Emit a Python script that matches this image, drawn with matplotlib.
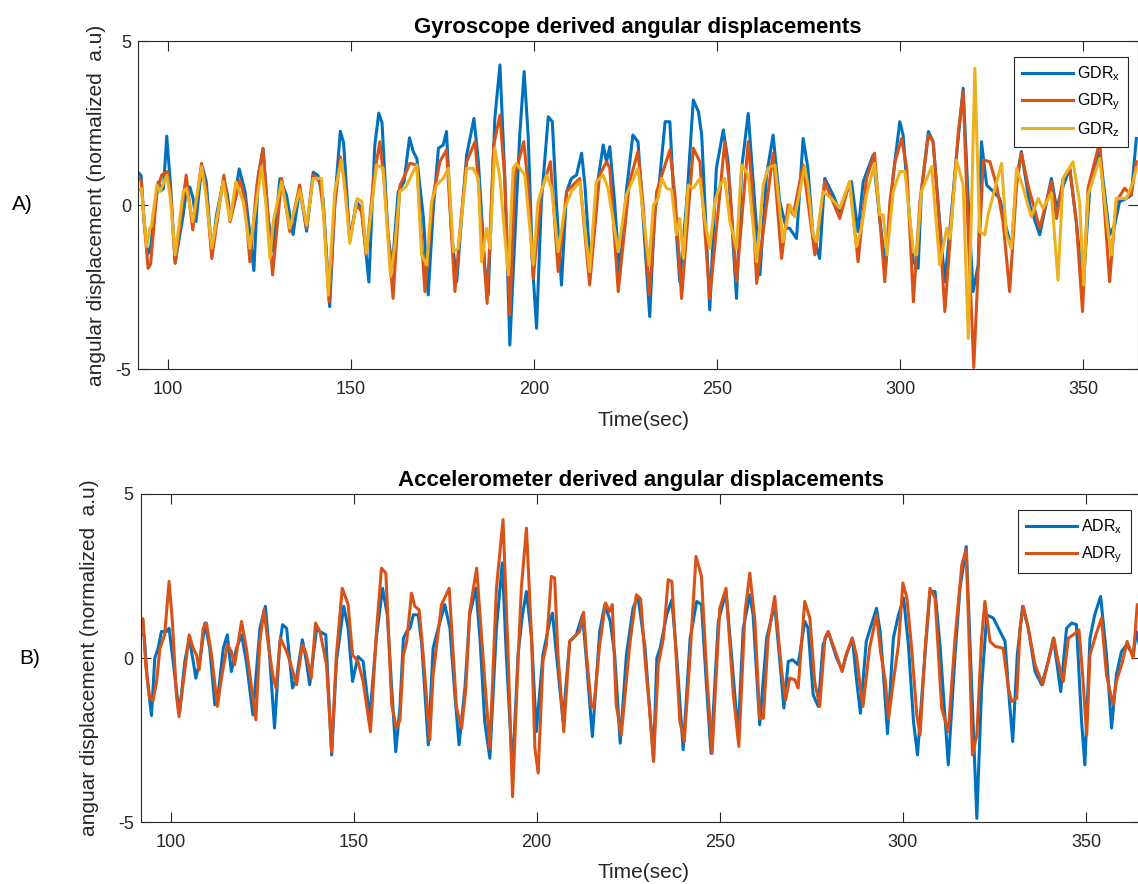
import matplotlib
matplotlib.use("Agg")
import matplotlib.pyplot as plt
import numpy as np

plt.rcParams['font.family'] = ['Liberation Sans', 'DejaVu Sans']
plt.rcParams['mathtext.fontset'] = 'custom'
plt.rcParams['mathtext.rm'] = 'Liberation Sans'
plt.rcParams['mathtext.it'] = 'Liberation Sans'
plt.rcParams['axes.unicode_minus'] = False
plt.rcParams['lines.solid_joinstyle'] = 'round'

# (time [s], value) samples for each trace
gdr_x = np.array([
    (91.85, 1.0), (92.7, 0.9), (93.5, -0.5), (94.5, -1.5), (95.3, -1.3), (96.5, -0.1), (97.4, 0.7),
    (98.3, 0.45), (98.8, 0.5), (99.7, 2.1), (100.6, 0.8), (102.0, -1.75), (104.2, -0.3), (105.1, 0.5),
    (106.0, 0.55), (106.9, 0.2), (107.7, -0.5), (108.8, 0.7), (109.5, 1.15), (110.5, 0.7), (112.0, -1.5),
    (113.3, -0.3), (115.3, 0.8), (116.3, 0.3), (117.0, -0.35), (117.9, 0.0), (119.5, 1.1), (121.1, 0.4),
    (122.4, -0.9), (123.5, -2.0), (124.7, 0.9), (126.0, 1.7), (127.4, -0.4), (128.7, -1.4), (130.6, 0.8),
    (132.4, 0.3), (134.2, -0.9), (136.0, 0.5), (137.9, -0.8), (139.7, 1.0), (141.0, 0.9), (142.4, 0.2),
    (144.2, -3.1), (145.6, 0.1), (147.1, 2.25), (148.0, 1.9), (149.7, -1.1), (151.5, 0.1), (152.9, -0.1),
    (154.9, -2.35), (156.5, 1.8), (157.6, 2.8), (158.5, 2.5), (160.1, -0.9), (161.3, -1.9), (162.9, 0.4),
    (164.5, 0.7), (166.0, 2.05), (167.0, 1.63), (168.0, 1.42), (169.8, -0.4), (171.1, -2.74), (172.5, -0.1),
    (173.9, 1.73), (175.2, 1.83), (176.1, 2.24), (177.5, -0.91), (178.9, -2.34), (180.2, -0.41), (181.6, 1.52),
    (183.6, 2.64), (184.8, 1.32), (186.6, -1.93), (187.5, -2.74), (189.3, 2.64), (190.7, 4.27), (192.0, 0.91),
    (193.4, -4.27), (194.8, -0.91), (196.1, 2.13), (197.3, 4.07), (198.4, 2.13), (199.6, -1.83), (200.7, -3.76),
    (202.0, 0.1), (203.9, 2.69), (205.0, 2.54), (206.1, 0.1), (207.5, -2.44), (208.9, 0.41), (210.2, 0.81),
    (211.6, 0.91), (213.0, 1.58), (213.9, 0.61), (215.4, -1.93), (217.0, 0.41), (218.9, 1.83), (219.8, 1.32),
    (220.7, 1.78), (222.0, 0.1), (223.4, -2.13), (225.2, 0.41), (227.0, 2.13), (228.4, 1.93), (229.8, -0.41),
    (231.6, -3.4), (233.0, -0.1), (233.9, 0.3), (235.8, 2.54), (237.1, 2.54), (238.0, 0.61), (239.8, -2.34),
    (241.7, 0.1), (243.5, 3.2), (244.9, 2.85), (245.8, 2.13), (248.0, -3.2), (249.8, 1.12), (251.7, 2.29),
    (253.0, 1.32), (255.3, -2.85), (256.7, 1.12), (258.5, 2.79), (259.8, 0.81), (261.7, -2.13), (263.5, 0.91),
    (265.3, 2.13), (267.1, 0.1), (268.9, -0.71), (269.8, -0.71), (271.7, -1.02), (273.5, 2.03), (274.8, 1.12),
    (276.2, -0.91), (278.0, -1.63), (279.4, 0.81), (281.7, 0.3), (283.5, -0.2), (284.9, 0.3), (286.7, 0.71),
    (288.5, -0.81), (289.9, 0.71), (292.6, 1.52), (294.4, -0.41), (296.0, -1.9), (298.1, 0.91), (299.9, 2.54),
    (300.8, 2.13), (302.2, 0.1), (303.6, -1.73), (304.9, -1.93), (305.8, 0.41), (307.7, 2.24), (309.0, 1.93),
    (311.3, -1.22), (312.2, -2.34), (313.6, -0.71), (315.4, 1.52), (317.2, 3.56), (318.6, 0.1), (319.9, -2.64),
    (321.3, -1.83), (322.2, 1.93), (323.6, 0.61), (325.4, 0.41), (327.2, 0.2), (329.0, -0.71), (330.4, -1.32),
    (331.8, 0.81), (333.1, 1.63), (335.4, 0.0), (338.1, -0.91), (341.3, 0.81), (342.7, -0.1), (344.0, 0.41),
    (346.3, 1.12), (348.1, -0.51), (349.9, -2.54), (351.8, 0.51), (354.5, 1.63), (357.2, -0.91), (358.6, -0.61),
    (359.9, 0.1), (361.8, 0.2), (363.1, 0.3), (364.5, 2.03),
])

gdr_y = np.array([
    (91.85, 0.85), (92.7, 0.75), (93.6, -0.6), (94.6, -1.93), (95.3, -1.8), (97.0, 0.41), (98.3, 0.91),
    (99.9, 1.02), (100.8, 0.3), (102.0, -1.78), (105.0, 0.91), (106.8, -0.76), (109.2, 1.27), (110.4, 0.5),
    (112.0, -1.63), (115.3, 0.91), (117.0, -0.51), (119.7, 0.76), (121.0, 0.2), (122.4, -1.73), (124.3, 0.6),
    (126.0, 1.73), (127.0, 0.2), (128.6, -2.13), (131.1, 0.81), (133.3, -0.81), (136.0, 0.61), (137.9, -0.71),
    (139.7, 0.91), (141.5, 0.71), (142.6, -0.3), (144.05, -2.95), (145.6, 0.0), (147.1, 1.47), (148.2, 0.8),
    (149.7, -1.02), (151.5, 0.0), (152.9, -0.2), (154.2, -1.52), (156.2, 0.8), (157.9, 1.93), (159.0, 0.8),
    (161.5, -2.85), (163.4, 0.6), (164.5, 0.85), (166.1, 1.27), (168.0, 1.22), (170.2, -2.64), (172.5, 0.3),
    (174.3, 1.32), (176.1, 1.68), (178.4, -2.64), (180.0, -0.5), (181.6, 1.32), (183.9, 1.93), (185.2, 0.1),
    (187.2, -3.0), (189.0, 1.83), (190.7, 2.74), (192.0, 0.81), (193.4, -3.35), (194.8, 0.91), (197.2, 1.93),
    (198.4, 0.61), (199.8, -2.24), (202.0, 0.41), (204.5, 1.32), (206.6, -2.03), (208.9, 0.41), (212.5, 0.81),
    (215.2, -2.44), (217.9, 0.91), (219.8, 1.32), (220.7, 1.12), (223.0, -2.64), (226.1, 0.71), (228.4, 1.63),
    (229.8, 0.0), (231.5, -2.74), (233.5, 0.41), (237.1, 1.68), (238.5, 0.3), (240.3, -2.85), (243.5, 1.73),
    (245.3, 1.32), (248.0, -2.85), (252.1, 1.93), (253.5, 0.5), (255.3, -2.34), (258.5, 1.93), (259.5, 0.6),
    (260.8, -2.39), (265.3, 1.58), (267.6, -1.63), (269.4, 0.0), (270.8, -0.3), (273.5, 1.22), (276.7, -1.52),
    (279.4, 0.71), (283.5, -0.41), (286.2, 0.71), (288.5, -1.73), (290.8, 0.81), (293.0, 1.58), (295.8, -2.34),
    (297.2, 0.1), (298.6, 1.32), (300.4, 2.03), (301.8, 1.12), (303.6, -2.95), (305.4, 0.1), (307.7, 2.13),
    (309.0, 1.93), (310.8, -0.71), (312.2, -3.25), (314.0, -0.51), (315.8, 2.13), (317.2, 3.46), (318.6, -0.91),
    (320.1, -4.95), (321.3, -1.93), (322.7, 1.37), (324.5, 1.32), (326.3, 0.61), (328.1, -0.51), (329.9, -2.64),
    (331.8, 0.61), (333.1, 1.58), (334.9, 0.61), (338.1, -0.71), (341.3, 0.71), (342.7, -0.41), (344.5, 0.81),
    (346.3, 1.12), (348.1, -0.51), (349.8, -3.25), (351.3, 0.51), (354.5, 1.93), (357.2, -2.34), (359.0, 0.1),
    (361.3, 0.51), (363.1, 0.3), (364.5, 1.32),
])

gdr_z = np.array([
    (91.85, 0.45), (92.8, 0.5), (94.2, -1.27), (95.1, -0.71), (95.5, -0.66), (97.0, 0.61), (97.9, 0.41),
    (99.7, 0.91), (100.7, 0.2), (102.0, -1.52), (104.2, 0.41), (105.1, 0.51), (106.8, -0.51), (109.2, 1.17),
    (110.4, 0.3), (112.0, -1.32), (115.1, 0.71), (117.0, -0.46), (118.6, 0.71), (120.6, 0.1), (122.4, -1.32),
    (125.6, 1.17), (126.8, 0.0), (127.9, -1.63), (128.8, -0.51), (131.05, 0.71), (133.3, -0.71), (136.0, 0.46),
    (137.9, -0.61), (139.7, 0.81), (142.0, 0.81), (143.8, -2.74), (145.6, 0.41), (147.4, 1.37), (148.5, 0.3),
    (149.7, -1.17), (151.7, 0.2), (153.0, 0.1), (154.2, -1.47), (157.0, 1.22), (158.8, 1.12), (160.8, -2.18),
    (162.0, -1.22), (163.3, 0.41), (165.1, 0.56), (167.0, 1.02), (168.0, 1.22), (169.3, -1.52), (170.7, -1.83),
    (172.0, 0.1), (173.4, 0.61), (175.2, 0.81), (176.6, 1.12), (178.0, -1.42), (179.3, -1.32), (180.2, -0.41),
    (181.6, 1.12), (183.4, 1.12), (184.8, 0.81), (185.7, -1.73), (187.05, -0.71), (187.95, -1.32), (189.3, 1.73),
    (190.7, 0.81), (192.0, -0.91), (193.0, -2.13), (194.3, 1.12), (195.2, 1.27), (197.5, 0.91), (199.8, -1.83),
    (201.1, 0.1), (203.4, 0.91), (204.8, 0.51), (206.6, -1.42), (208.4, -0.1), (210.2, 0.41), (212.5, 0.71),
    (215.2, -2.03), (217.0, 0.71), (218.9, 0.91), (220.2, 0.51), (223.0, -1.42), (225.2, 0.3), (228.4, 1.12),
    (231.4, -1.83), (232.6, 0.0), (233.9, 0.2), (234.9, 0.81), (236.2, 0.51), (237.6, 0.46), (238.9, -0.91),
    (239.8, -0.41), (240.8, -1.63), (242.1, 0.61), (243.5, 0.51), (245.3, 0.81), (246.7, -0.51), (248.0, -1.32),
    (249.4, 0.1), (250.8, 0.61), (252.1, 0.81), (253.5, -0.51), (255.3, -1.32), (256.7, 1.22), (258.5, 0.91),
    (260.8, -1.73), (262.6, 0.61), (263.9, 1.12), (265.8, 1.22), (267.1, -0.1), (268.0, -1.12), (269.9, 0.0),
    (271.2, -0.36), (273.9, 1.17), (274.8, 0.61), (276.2, -0.91), (277.1, -1.12), (278.9, 0.41), (281.2, 0.2),
    (283.5, -0.1), (286.2, 0.71), (288.0, -1.27), (289.4, -0.71), (290.8, 0.3), (293.0, 1.27), (294.4, -0.3),
    (295.4, -0.3), (296.4, -1.52), (298.1, 0.41), (299.9, 1.02), (301.3, 1.02), (303.6, -1.42), (304.5, -1.52),
    (305.8, 0.41), (308.6, 1.17), (310.8, -1.83), (312.7, -0.71), (313.6, -1.02), (315.4, 1.37), (317.2, 0.61),
    (318.6, -4.07), (320.4, 4.17), (321.7, -0.81), (323.1, -0.91), (324.0, -0.3), (325.4, 0.3), (327.7, 1.27),
    (329.0, -0.91), (330.4, -1.32), (331.8, 1.12), (333.6, 0.51), (335.8, -0.36), (337.7, 0.2), (339.0, -0.1),
    (341.3, 0.36), (343.1, -2.29), (344.5, 0.81), (347.2, 1.32), (349.0, 0.1), (350.1, -2.44), (351.3, 0.3),
    (354.5, 1.42), (356.8, -0.81), (357.7, -1.52), (359.0, 0.2), (361.8, 0.2), (363.6, 0.71), (364.5, 1.12),
])

adr_x = np.array([
    (91.85, 0.75), (92.8, 0.7), (93.6, -0.6), (94.8, -1.75), (95.7, 0.0), (96.6, 0.3), (97.5, 0.81),
    (98.9, 0.81), (99.6, 0.91), (100.7, -0.1), (102.1, -1.42), (102.5, -1.63), (103.9, -0.1), (105.1, 0.61),
    (106.2, -0.1), (106.9, -0.61), (108.0, -0.1), (109.4, 1.07), (110.7, 0.3), (112.1, -1.42), (113.0, -1.12),
    (114.4, 0.3), (115.5, 0.71), (116.6, -0.41), (118.0, 0.3), (119.4, 0.71), (120.7, -0.1), (122.5, -1.73),
    (124.4, 0.91), (125.9, 1.58), (126.9, 0.3), (128.4, -2.13), (129.8, 0.41), (130.6, 1.02), (131.7, 0.91),
    (133.3, -0.91), (134.4, -0.61), (136.0, 0.56), (137.1, -0.1), (138.0, -0.81), (139.9, 0.91), (140.8, 0.81),
    (142.4, 0.71), (144.0, -2.95), (145.3, -0.1), (147.3, 1.58), (148.5, 0.91), (149.7, -0.71), (151.2, 0.05),
    (152.6, -0.1), (154.4, -1.83), (156.2, 0.61), (157.9, 2.13), (159.2, 1.32), (160.4, -0.91), (161.5, -2.85),
    (162.65, -1.5), (163.6, 0.61), (164.5, 0.81), (165.4, 0.91), (166.3, 1.32), (167.65, 1.32), (168.6, 0.41),
    (170.4, -2.64), (171.7, 0.3), (173.1, 0.91), (174.9, 1.63), (176.3, 0.91), (177.65, -1.12), (178.8, -2.64),
    (180.4, -0.91), (181.7, 1.32), (183.4, 2.13), (184.5, 0.61), (185.8, -1.93), (187.2, -3.05), (189.0, 0.91),
    (190.6, 2.9), (191.7, 0.1), (193.4, -3.45), (194.9, 0.1), (196.1, 1.32), (197.2, 2.03), (198.6, 0.61),
    (199.9, -2.24), (201.7, 0.1), (203.55, 1.12), (204.3, 1.37), (205.4, 0.1), (207.2, -1.93), (209.0, 0.51),
    (210.8, 0.71), (212.5, 1.32), (213.6, -0.1), (215.2, -2.39), (217.2, 0.81), (218.6, 1.63), (220.1, 1.12),
    (221.3, 0.1), (222.8, -2.59), (224.5, 0.1), (226.3, 1.52), (227.65, 1.88), (228.6, 1.1), (229.6, 0.3),
    (230.6, -1.2), (231.9, -3.05), (232.8, 0.0), (233.7, 0.3), (235.5, 1.32), (236.9, 1.78), (238.2, 0.1),
    (240.0, -2.79), (241.9, 0.61), (243.7, 1.73), (245.0, 1.63), (246.4, -0.91), (247.6, -2.9), (249.6, 1.12),
    (251.7, 2.03), (253.2, 0.1), (255.0, -2.34), (256.4, 0.91), (258.2, 1.93), (259.1, 1.32), (260.9, -2.03),
    (262.8, 0.61), (265.0, 1.63), (266.4, -0.1), (267.5, -1.52), (268.7, -0.1), (269.9, -0.05), (271.4, -0.2),
    (273.2, 1.12), (274.1, 0.91), (275.5, -1.12), (276.9, -1.47), (278.2, 0.41), (279.6, 0.81), (281.9, 0.0),
    (283.4, -0.36), (284.6, 0.1), (286.2, 0.61), (287.3, -0.61), (288.4, -1.68), (290.0, 0.51), (292.8, 1.52),
    (293.8, 0.8), (294.7, -0.5), (295.8, -2.3), (297.4, 0.61), (298.8, 1.32), (300.2, 1.83), (301.5, 0.41),
    (302.9, -1.93), (304.0, -2.95), (305.6, -0.51), (307.4, 2.03), (308.8, 2.03), (310.2, 0.3), (312.4, -3.25),
    (314.25, 0.1), (315.6, 2.13), (317.3, 3.4), (318.8, -0.91), (320.2, -4.88), (321.5, -0.91), (322.9, 1.32),
    (324.7, 1.22), (327.0, 0.71), (327.9, 0.51), (328.8, -0.91), (330.0, -2.54), (331.25, 0.1), (332.7, 1.58),
    (334.25, 0.91), (336.1, -0.41), (337.9, -0.81), (339.7, -0.1), (341.1, 0.61), (342.0, -0.1), (343.1, -1.02),
    (344.7, 0.91), (346.1, 1.07), (347.4, 1.02), (348.8, -1.93), (349.7, -3.25), (351.1, 0.61), (352.4, 1.32),
    (354.0, 1.88), (355.6, 0.1), (357.0, -2.13), (358.3, -0.51), (359.7, 0.2), (361.1, 0.41), (362.9, 0.1),
    (363.8, 0.81), (364.95, 0.2),
])

adr_y = np.array([
    (91.85, 1.15), (92.5, 1.2), (93.2, -0.2), (94.3, -1.2), (95.2, -1.3), (96.2, -0.71), (97.1, 0.3),
    (98.4, 0.71), (99.6, 2.34), (100.5, 1.12), (101.6, -1.12), (102.3, -1.78), (103.4, -0.81), (105.1, 0.71),
    (106.2, 0.3), (107.1, 0.1), (107.8, -0.36), (108.9, 0.91), (109.8, 1.07), (111.2, 0.1), (112.8, -1.47),
    (113.9, -0.61), (115.5, 0.41), (116.6, 0.2), (117.5, -0.2), (119.4, 1.12), (120.7, 0.3), (123.3, -1.88),
    (124.4, 0.51), (125.5, 1.47), (126.7, 0.41), (127.9, -0.51), (128.8, -0.91), (130.0, 0.61), (131.7, 0.2),
    (132.6, -0.1), (134.4, -0.81), (136.0, 0.41), (137.0, 0.15), (138.4, -0.61), (139.6, 1.07), (140.8, 0.81),
    (141.7, 0.3), (142.6, -0.2), (144.0, -2.85), (145.3, 0.1), (146.9, 2.13), (148.5, 1.63), (149.7, 0.1),
    (151.2, -0.1), (152.6, -0.71), (154.6, -2.24), (156.3, 0.91), (157.6, 2.74), (158.8, 2.59), (160.4, -1.42),
    (161.7, -2.13), (162.65, -1.9), (163.6, 0.1), (164.5, 0.5), (165.8, 1.98), (166.7, 1.58), (167.9, 1.47),
    (169.0, 0.1), (170.8, -2.49), (171.7, -0.51), (173.1, 0.81), (174.0, 1.63), (176.1, 2.13), (177.2, 0.1),
    (178.1, -1.52), (179.5, -2.13), (180.65, -0.91), (181.7, 1.42), (183.6, 2.74), (184.9, 0.71), (187.2, -2.74),
    (189.0, 2.13), (190.8, 4.22), (192.2, 0.1), (193.4, -4.22), (194.9, -0.1), (195.8, 2.13), (197.2, 3.96),
    (198.6, 0.61), (199.5, -2.74), (200.4, -3.5), (201.7, -0.1), (202.65, 0.41), (204.0, 2.49), (204.9, 2.44),
    (205.8, 0.1), (207.4, -2.24), (209.0, 0.51), (211.7, 0.81), (212.8, 1.4), (213.6, 0.1), (214.9, -1.42),
    (215.6, -1.52), (217.2, 0.41), (218.8, 1.68), (219.9, 1.42), (220.65, 1.63), (221.7, -1.42), (223.1, -2.34),
    (225.4, 0.41), (227.2, 1.93), (228.4, 1.8), (229.7, -0.2), (230.7, -1.4), (231.9, -3.15), (233.2, -0.2),
    (234.6, 0.61), (235.9, 2.39), (236.9, 2.34), (237.8, 0.61), (239.1, -1.93), (240.3, -2.54), (241.9, 0.1),
    (243.5, 3.1), (245.0, 2.49), (246.4, -0.41), (247.9, -2.9), (250.0, 1.52), (251.7, 2.13), (253.7, -1.12),
    (255.2, -2.69), (256.9, 1.42), (258.2, 2.59), (259.6, 1.12), (260.9, -1.83), (261.9, -1.83), (263.2, 0.61),
    (265.0, 1.88), (266.9, -0.41), (268.0, -1.27), (269.1, -0.61), (270.5, -0.66), (271.4, -0.91), (273.2, 1.73),
    (274.6, 1.22), (275.9, -0.71), (277.3, -1.47), (278.7, 0.61), (279.6, 0.81), (281.9, 0.1), (283.4, -0.41),
    (284.6, 0.15), (286.2, 0.61), (287.3, 0.1), (288.2, -0.71), (289.1, -1.47), (290.9, 0.3), (292.8, 1.32),
    (293.9, 0.2), (295.2, -0.7), (296.1, -1.83), (297.4, -0.71), (298.8, 0.41), (300.0, 2.29), (301.1, 1.83),
    (302.4, 0.3), (303.8, -1.73), (304.7, -2.34), (306.1, 0.3), (307.4, 2.13), (308.8, 1.83), (310.6, -1.52),
    (312.4, -2.24), (314.25, 0.61), (316.1, 2.85), (317.3, 3.3), (318.35, -0.41), (319.0, -2.95), (320.2, -2.34),
    (321.5, 0.61), (322.4, 1.73), (323.8, 0.51), (325.2, 0.36), (327.4, 0.3), (328.8, -0.91), (329.7, -1.32),
    (331.1, -1.22), (332.0, 0.91), (332.9, 1.58), (334.25, 0.91), (336.1, -0.2), (338.2, -0.81), (339.7, -0.1),
    (341.25, 0.61), (342.4, -0.1), (343.8, -0.71), (345.2, 0.61), (346.5, 0.71), (348.1, 0.86), (349.1, -0.51),
    (350.2, -2.34), (351.1, 0.1), (352.7, 0.71), (354.25, 1.22), (355.6, -0.51), (357.4, -1.42), (358.3, -0.71),
    (360.0, -0.1), (361.25, 0.51), (362.9, 0.0), (364.0, 1.63), (364.95, 1.6),
])

x_ticks = [100, 150, 200, 250, 300, 350]
y_ticks = [-5, 0, 5]

blue = '#0072BD'
orange = '#D95319'
yellow = '#EDB120'
ink = '#262626'

W, H = 1138, 884
fig = plt.figure(figsize=(W / 100, H / 100), dpi=100)
fig.patch.set_facecolor('white')

ax1 = fig.add_axes([138 / W, 1 - 369 / H, 1000 / W, 328 / H])
ax2 = fig.add_axes([140.7 / W, 1 - 822.3 / H, 1000 / W, 328.3 / H])


def style(ax):
    ax.set_xlim(91.85, 364.95)
    ax.set_ylim(-5, 5)
    ax.set_xticks(x_ticks)
    ax.set_yticks(y_ticks)
    ax.tick_params(direction='in', length=7.5, width=0.8, top=True, right=True,
                   labelsize=13, colors=ink)
    ax.tick_params(axis='x', pad=8.5)
    ax.tick_params(axis='y', pad=5)
    for s in ax.spines.values():
        s.set_color(ink)
        s.set_linewidth(0.8)


lw = 2.2

ax1.plot(gdr_x[:, 0], gdr_x[:, 1], color=blue, lw=lw, label=r'GDR$_\mathrm{x}$')
ax1.plot(gdr_y[:, 0], gdr_y[:, 1], color=orange, lw=lw, label=r'GDR$_\mathrm{y}$')
ax1.plot(gdr_z[:, 0], gdr_z[:, 1], color=yellow, lw=lw, label=r'GDR$_\mathrm{z}$')
style(ax1)
ax1.set_title('Gyroscope derived angular displacements', fontsize=16,
              fontweight='bold', pad=6)

ax2.plot(adr_x[:, 0], adr_x[:, 1], color=blue, lw=lw, label=r'ADR$_\mathrm{x}$')
ax2.plot(adr_y[:, 0], adr_y[:, 1], color=orange, lw=lw, label=r'ADR$_\mathrm{y}$')
style(ax2)
ax2.set_title('Accelerometer derived angular displacements', fontsize=16,
              fontweight='bold', pad=6)

for ax in (ax1, ax2):
    leg = ax.legend(loc='upper right', bbox_to_anchor=(0.99, 0.952), fontsize=11.5,
                    frameon=True, fancybox=False, framealpha=1, edgecolor=ink,
                    handlelength=3.2, handletextpad=0.25, labelspacing=0.5,
                    borderpad=0.5, borderaxespad=0)
    leg.get_frame().set_linewidth(0.8)
    for line in leg.get_lines():
        line.set_linewidth(lw)

# axis labels and panel letters
fig.text(644 / W, 1 - 421 / H, 'Time(sec)', fontsize=15, color=ink, ha='center', va='center')
fig.text(644 / W, 1 - 873 / H, 'Time(sec)', fontsize=15, color=ink, ha='center', va='center')
fig.text(97 / W, 1 - 205 / H, 'angular displacement (normalized  a.u)', fontsize=15,
         color=ink, rotation=90, ha='center', va='center')
fig.text(90 / W, 1 - 658 / H, 'anguar displacement (normalized  a.u)', fontsize=15,
         color=ink, rotation=90, ha='center', va='center')
fig.text(22 / W, 1 - 205 / H, 'A)', fontsize=15, color='black', ha='center', va='center')
fig.text(30 / W, 1 - 658 / H, 'B)', fontsize=15, color='black', ha='center', va='center')

fig.savefig('out.png', dpi=100, facecolor='white')
